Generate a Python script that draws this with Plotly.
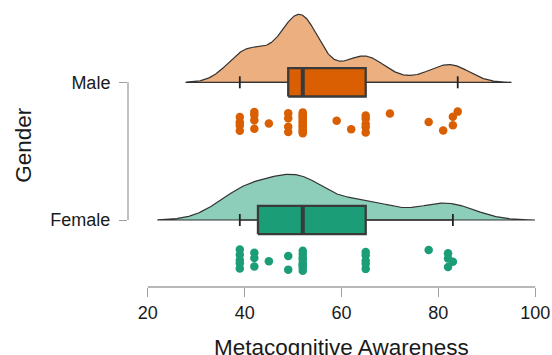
import numpy as np
import plotly.graph_objects as go

# ---- data (Metacognitive Awareness scores by gender) ----
groups = ["Female", "Male"]
male_scores = [39, 42, 45, 49, 52, 59, 62, 65, 70, 78, 81, 83, 84]
male_counts = [4, 4, 1, 4, 13, 1, 1, 5, 1, 1, 1, 2, 1]
female_scores = [39, 42, 45, 49, 52, 65, 78, 82, 83]
female_counts = [5, 3, 1, 2, 9, 5, 1, 3, 1]
x_ticks = [20, 40, 60, 80, 100]

data = {"Male": np.repeat(male_scores, male_counts).astype(float),
        "Female": np.repeat(female_scores, female_counts).astype(float)}
BW = {"Male": 3.7, "Female": 5.65}
line_c = {"Male": "#D95F02", "Female": "#1B9E77"}
fill_c = {"Male": "rgba(217,95,2,0.5)", "Female": "rgba(27,158,119,0.5)"}

PX_PER_Y = 137.7
DENS_H = 68 / PX_PER_Y
BOX_H = 14.2 / PX_PER_Y
CAP_H = 6 / PX_PER_Y
PT_OFF = 40 / PX_PER_Y
PT_HALF = 11 / PX_PER_Y


def kde(v, bw):
    g = np.linspace(v.min() - 3 * bw, v.max() + 3 * bw, 512)
    d = np.exp(-(g[:, None] - v[None, :]) ** 2 / (2 * bw ** 2)).sum(1) / (len(v) * bw * np.sqrt(2 * np.pi))
    return g, d


dens = {k: kde(data[k], BW[k]) for k in groups}
dmax = max(d.max() for _, d in dens.values())

fig = go.Figure()
for yi, k in enumerate(groups):
    g, d = dens[k]
    yy = yi + d / dmax * DENS_H
    fig.add_trace(go.Scatter(x=np.r_[g, g[::-1], g[0]], y=np.r_[yy, np.full(len(g), yi), yy[0]],
                             fill="toself", fillcolor=fill_c[k], mode="lines",
                             line=dict(color="#333333", width=1.2), hoverinfo="skip"))
    v = data[k]
    q1, med, q3 = np.percentile(v, [25, 50, 75])
    iqr = q3 - q1
    lw = v[v >= q1 - 1.5 * iqr].min()
    uw = v[v <= q3 + 1.5 * iqr].max()
    fig.add_trace(go.Scatter(x=[lw, q1, None, q3, uw], y=[yi] * 5, mode="lines",
                             line=dict(color="#333333", width=1.3), hoverinfo="skip"))
    fig.add_trace(go.Scatter(x=[lw, lw, None, uw, uw],
                             y=[yi - CAP_H, yi + CAP_H, None, yi - CAP_H, yi + CAP_H],
                             mode="lines", line=dict(color="#222222", width=1.8), hoverinfo="skip"))
    fig.add_trace(go.Scatter(x=[q1, q3, q3, q1, q1],
                             y=[yi - BOX_H, yi - BOX_H, yi + BOX_H, yi + BOX_H, yi - BOX_H],
                             fill="toself", fillcolor=line_c[k], mode="lines",
                             line=dict(color="#3a3a3a", width=2.3), hoverinfo="skip"))
    fig.add_trace(go.Scatter(x=[med, med], y=[yi - BOX_H, yi + BOX_H], mode="lines",
                             line=dict(color="#3a3a3a", width=4), hoverinfo="skip"))
    u = (0.5 + np.arange(len(v)) * 0.6180339887) % 1.0
    jit = yi - PT_OFF + (u * 2 - 1) * PT_HALF
    fig.add_trace(go.Scatter(x=v, y=jit, mode="markers",
                             marker=dict(color=line_c[k], size=8.5, line=dict(width=0)), hoverinfo="skip"))

L, R, T, B = 128, 548, 2, 287
X20, X100 = 147.8, 535.2
ppu = (X100 - X20) / 80
xr = [20 - (X20 - L) / ppu, 100 + (R - X100) / ppu]
yr = [0 - (B - 220) / PX_PER_Y, 1 + (82.3 - T) / PX_PER_Y]
axc = "#a0a0a0"
font = "Liberation Sans, Arial, sans-serif"

fig.update_layout(
    width=552, height=355, margin=dict(l=L, r=552 - R, t=T, b=355 - B),
    paper_bgcolor="white", plot_bgcolor="white", showlegend=False,
    font=dict(family=font, color="#1a1a1a"),
    xaxis=dict(range=xr, tickvals=x_ticks, ticks="outside", ticklen=9, tickwidth=1.3, automargin=False,
               tickcolor=axc, showline=False, showgrid=False, zeroline=False, tickfont=dict(size=18)),
    yaxis=dict(range=yr, tickvals=[0, 1], ticktext=groups, ticks="outside", ticklen=8, tickwidth=1.3,
               automargin=False, tickcolor=axc, showline=False, showgrid=False, zeroline=False,
               tickfont=dict(size=18), ticklabelstandoff=5),
    shapes=[dict(type="line", xref="x", yref="paper", x0=x_ticks[0], x1=x_ticks[-1], y0=0, y1=0,
                 line=dict(color=axc, width=1.3)),
            dict(type="line", xref="paper", yref="y", x0=0, x1=0, y0=0, y1=1,
                 line=dict(color=axc, width=1.3))],
    annotations=[
        dict(text="Metacognitive Awareness", xref="paper", yref="paper", x=((X20 + X100) / 2 - L) / (R - L),
             y=(B - 333) / (B - T), xanchor="center", yanchor="top", showarrow=False, font=dict(size=22.5)),
        dict(text="Gender", xref="paper", yref="paper", x=(23.3 - L) / (R - L), y=0.5, textangle=-90,
             xanchor="center", yanchor="middle", showarrow=False, font=dict(size=22.5)),
    ],
)
fig.write_html("out.html", config={"displayModeBar": False},
               post_script="document.body.style.margin='0';document.body.style.padding='0';")
